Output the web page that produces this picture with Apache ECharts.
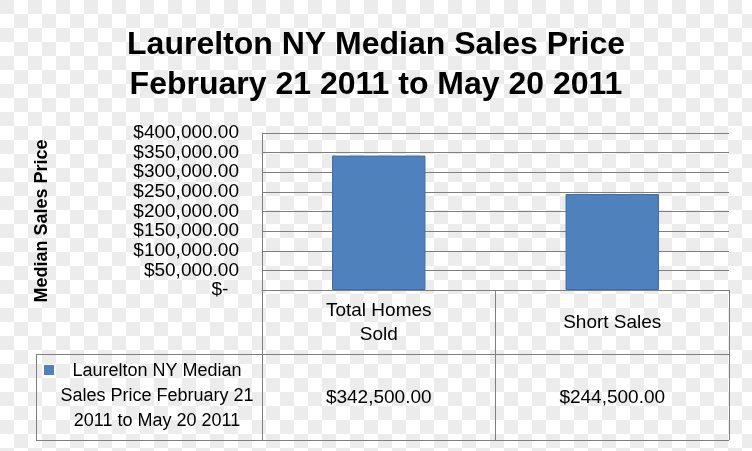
<!DOCTYPE html>
<html>
<head>
<meta charset="utf-8">
<script src="https://cdn.jsdelivr.net/npm/echarts@6/dist/echarts.min.js"></script>
<style>
html,body{margin:0;padding:0;}
body{width:752px;height:451px;
background-color:#ffffff;
background-image:conic-gradient(#ffffff 25%, #ececec 0 50%, #ffffff 0 75%, #ececec 0);
background-size:28px 28px;}
#c{width:752px;height:451px;}
</style>
</head>
<body>
<div id="c"></div>
<script>
var titleLines = ['Laurelton NY Median Sales Price', 'February 21 2011 to May 20 2011'];
var categories = ['Total Homes\nSold', 'Short Sales'];
var seriesName = 'Laurelton NY Median Sales Price February 21 2011 to May 20 2011';
var seriesLegendLines = ['Laurelton NY Median', 'Sales Price February 21', '2011 to May 20 2011'];
var values = [342500, 244500];
var yAxisName = 'Median Sales Price';
var yMin = 0, yMax = 400000, yStep = 50000;

function money(v) {
  if (v === 0) return '$-  ';
  var s = Math.round(v).toString().replace(/\B(?=(\d{3})+(?!\d))/g, ',');
  return '$' + s + '.00';
}

var FONT = '"Liberation Sans", Arial, sans-serif';
var GRID_COLOR = '#7f7f7f';
var chart = echarts.init(document.getElementById('c'), null, {renderer: 'canvas'});
var option = {
  backgroundColor: 'transparent',
  animation: false,
  title: {
    text: titleLines.join('\n'),
    left: 'center',
    top: 20,
    textStyle: {fontFamily: FONT, fontWeight: 'bold', fontSize: 32, color: '#000', lineHeight: 40}
  },
  grid: {left: 262, right: 23, top: 133, bottom: 161, containLabel: false},
  xAxis: [{
    type: 'category',
    data: categories,
    position: 'bottom',
    axisLine: {show: true, lineStyle: {color: GRID_COLOR, width: 1}},
    axisTick: {show: true, length: 150, lineStyle: {color: GRID_COLOR, width: 1}},
    axisLabel: {margin: 33, verticalAlign: 'middle', fontFamily: FONT, fontSize: 19, color: '#000', lineHeight: 24, align: 'center'}
  }, {
    type: 'category',
    data: categories,
    position: 'bottom',
    axisLine: {show: false},
    axisTick: {show: false},
    axisLabel: {margin: 108, verticalAlign: 'middle', fontFamily: FONT, fontSize: 19, color: '#000',
      formatter: function (v, i) { return money(values[i]); }}
  }],
  yAxis: {
    type: 'value',
    min: yMin, max: yMax, interval: yStep,
    axisLine: {show: true, lineStyle: {color: GRID_COLOR, width: 1}},
    axisTick: {show: false},
    splitLine: {show: true, lineStyle: {color: GRID_COLOR, width: 1}},
    axisLabel: {margin: 23, fontFamily: FONT, fontSize: 19, color: '#000', formatter: money}
  },
  series: [{
    name: seriesName,
    type: 'bar',
    data: values,
    barWidth: '40%',
    itemStyle: {color: '#4F81BD', borderColor: '#3C6EA8', borderWidth: 1}
  }],
  graphic: [
    {type: 'line', shape: {x1: 36, y1: 354.5, x2: 729, y2: 354.5}, style: {stroke: GRID_COLOR, lineWidth: 1}},
    {type: 'line', shape: {x1: 36, y1: 440.5, x2: 729, y2: 440.5}, style: {stroke: GRID_COLOR, lineWidth: 1}},
    {type: 'line', shape: {x1: 36.5, y1: 354, x2: 36.5, y2: 441}, style: {stroke: GRID_COLOR, lineWidth: 1}},
    {type: 'rect', shape: {x: 44, y: 365, width: 10, height: 10}, style: {fill: '#4F81BD'}},
    {type: 'text', x: 157, y: 396, style: {
      text: seriesLegendLines.join('\n'), align: 'center', verticalAlign: 'middle',
      font: '18px ' + FONT, fill: '#000', lineHeight: 25, textAlign: 'center', textVerticalAlign: 'middle'}},
    {type: 'text', x: 42, y: 221, rotation: Math.PI / 2, style: {
      text: yAxisName, align: 'center', verticalAlign: 'middle',
      font: 'bold 18px ' + FONT, fill: '#000', textAlign: 'center', textVerticalAlign: 'middle'}}
  ]
};
chart.setOption(option);
</script>
</body>
</html>
